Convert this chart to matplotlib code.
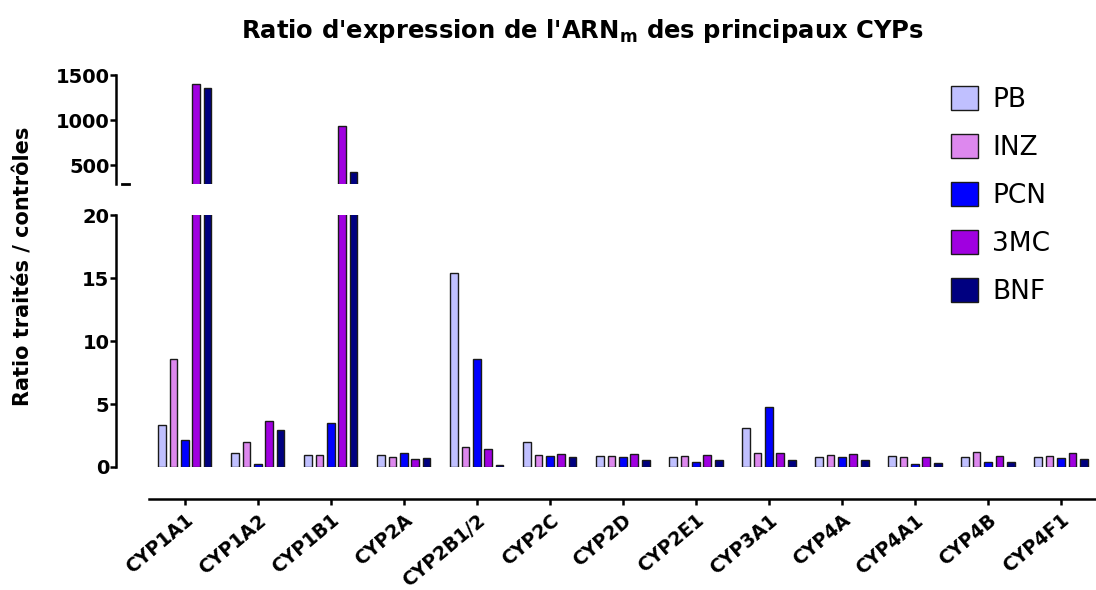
import numpy as np
import matplotlib
matplotlib.use("Agg")
import matplotlib.pyplot as plt

plt.rcParams['font.family'] = ['DejaVu Sans']
plt.rcParams['mathtext.fontset'] = 'dejavusans'

# data
cyps = ['CYP1A1', 'CYP1A2', 'CYP1B1', 'CYP2A', 'CYP2B1/2', 'CYP2C', 'CYP2D',
        'CYP2E1', 'CYP3A1', 'CYP4A', 'CYP4A1', 'CYP4B', 'CYP4F1']
treatments = ['PB', 'INZ', 'PCN', '3MC', 'BNF']
pb = [3.33, 1.13, 0.93, 0.95, 15.37, 1.98, 0.87, 0.76, 3.13, 0.76, 0.87, 0.79, 0.76]
inz = [8.57, 2.0, 0.95, 0.79, 1.56, 0.92, 0.84, 0.90, 1.08, 0.92, 0.81, 1.19, 0.87]
pcn = [2.14, 0.26, 3.49, 1.13, 8.57, 0.84, 0.81, 0.42, 4.79, 0.79, 0.26, 0.40, 0.74]
mc3 = [1400, 3.63, 933, 0.63, 1.43, 1.03, 1.03, 0.98, 1.10, 1.0, 0.76, 0.87, 1.10]
bnf = [1355, 2.94, 426, 0.74, 0.16, 0.81, 0.52, 0.58, 0.58, 0.52, 0.29, 0.40, 0.66]
series = [pb, inz, pcn, mc3, bnf]
colors = ['#C0C0FF', '#DD88EE', '#0000FF', '#A000E0', '#000080']

fig = plt.figure(figsize=(10.96, 5.9), dpi=100)
ax_top = fig.add_axes([0.136, 0.6876, 0.864, 0.1847])
ax_bot = fig.add_axes([0.136, 0.2085, 0.864, 0.427])

x = np.arange(len(cyps))
pitch = 0.156
width = 0.105
for ax in (ax_top, ax_bot):
    for i, (vals, col, name) in enumerate(zip(series, colors, treatments)):
        ax.bar(x + (i - 2) * pitch, vals, width, color=col, edgecolor='#1a1a1a',
               linewidth=1.0, label=name)
    ax.set_xlim(-0.49, 12.48)
    ax.spines['top'].set_visible(False)
    ax.spines['right'].set_visible(False)
    ax.spines['left'].set_position(('outward', 24))
    ax.spines['left'].set_linewidth(1.8)
    ax.spines['bottom'].set_linewidth(1.8)
    ax.tick_params(axis='y', width=1.8, length=4.5, labelsize=14, pad=0)

ax_top.set_ylim(290, 1500)
ax_top.set_yticks([500, 1000, 1500])
ax_top.set_yticklabels(['500', '1000', '1500'], fontweight='bold')
ax_top.spines['bottom'].set_visible(False)
ax_top.set_xticks([])
# end cap of the broken axis
ax_top.plot([-0.029, -0.0216], [0, 0], transform=ax_top.transAxes, color='black',
            linewidth=2.0, clip_on=False)

ax_bot.set_ylim(0, 20)
ax_bot.set_yticks([0, 5, 10, 15, 20])
ax_bot.set_yticklabels(['0', '5', '10', '15', '20'], fontweight='bold')
ax_bot.spines['bottom'].set_position(('outward', 23))
ax_bot.set_xticks(x)
ax_bot.set_xticklabels(cyps, rotation=40, ha='right', rotation_mode='anchor',
                       fontweight='bold', fontsize=13.5)
ax_bot.tick_params(axis='x', width=1.8, length=4.5, pad=4)

handles, labels = ax_top.get_legend_handles_labels()
fig.legend(handles, labels, loc='upper left', bbox_to_anchor=(0.868, 0.854),
           frameon=False, fontsize=19, handlelength=1.0, handleheight=1.0,
           labelspacing=0.8, handletextpad=0.55, borderaxespad=0, borderpad=0)

fig.text(0.531, 0.947, r"Ratio d'expression de l'ARN$_\mathbf{m}$ des principaux CYPs",
         ha='center', va='center', fontsize=17.5, fontweight='bold')
fig.text(0.021, 0.549, 'Ratio traités / contrôles', rotation=90, ha='center',
         va='center', fontsize=15, fontweight='bold')

fig.savefig('out.png', dpi=100)
